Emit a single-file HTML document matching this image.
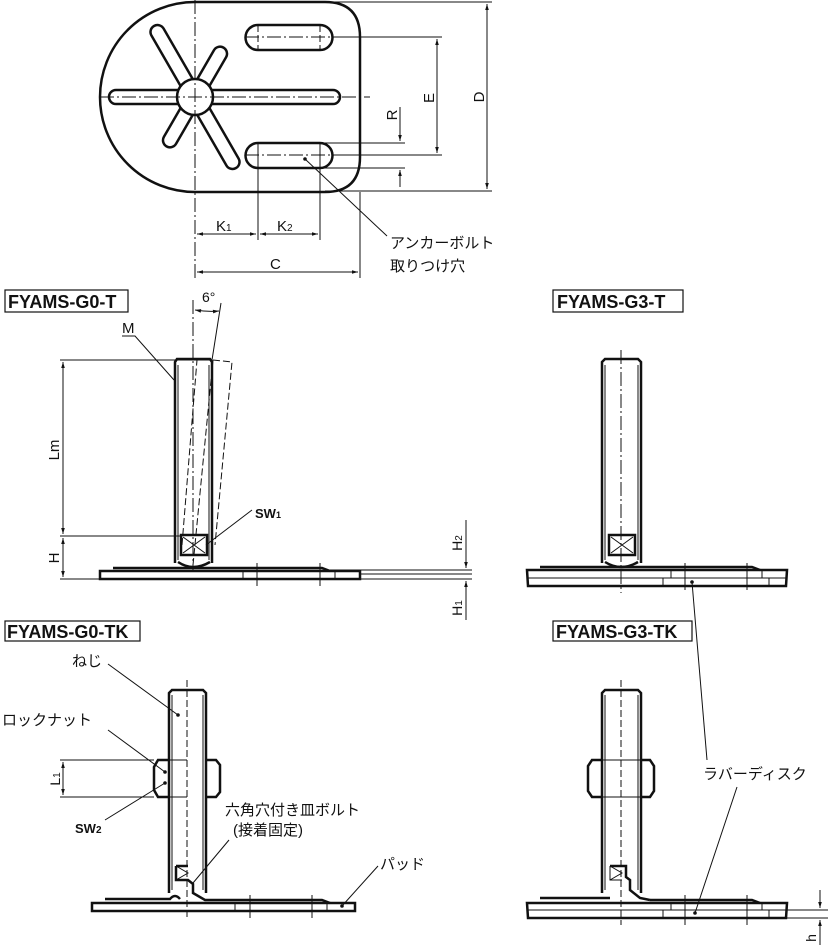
<!DOCTYPE html>
<html><head><meta charset="utf-8"><style>
html,body{margin:0;padding:0;background:#fff}
svg{display:block}
text{font-family:"Liberation Sans","Noto Sans CJK JP",sans-serif;fill:#111}
.o{fill:none;stroke:#111;stroke-width:2.5}
.t{fill:none;stroke:#111;stroke-width:1}
.c{fill:none;stroke:#111;stroke-width:1;stroke-dasharray:14 3 2 3}
.d{fill:none;stroke:#111;stroke-width:1;stroke-dasharray:7 3}
.lab{font-weight:bold;font-size:18px}
.j{font-size:15px}
</style></head><body>
<svg width="828" height="949" viewBox="0 0 828 949" xmlns="http://www.w3.org/2000/svg">
<defs>
<marker id="a" viewBox="0 0 10 10" refX="10" refY="5" markerWidth="8" markerHeight="6" orient="auto-start-reverse"><path d="M0,2 L10,5 L0,8 z" fill="#111"/></marker>
</defs>

<!-- ===== TOP VIEW ===== -->
<path class="o" d="M195,2 L325,2 Q360,2 360,37 L360,157 Q360,192 325,192 L195,192 A95,95 0 0 1 195,2 Z"/>
<line class="c" x1="195" y1="0" x2="195" y2="278"/>
<line class="c" x1="100" y1="97" x2="370" y2="97"/>
<path class="o" d="M178,90 L116,90 A7,7 0 0 0 116,104 L178,104"/>
<path class="o" d="M212,90 L333,90 A7,7 0 0 1 333,104 L212,104"/>
<g transform="rotate(60 195 97)"><path class="o" d="M212,90 L270,90 A7,7 0 0 1 270,104 L212,104"/></g>
<g transform="rotate(-60 195 97)"><path class="o" d="M212,90 L245,90 A7,7 0 0 1 245,104 L212,104"/></g>
<g transform="rotate(120 195 97)"><path class="o" d="M212,90 L245,90 A7,7 0 0 1 245,104 L212,104"/></g>
<g transform="rotate(-120 195 97)"><path class="o" d="M212,90 L270,90 A7,7 0 0 1 270,104 L212,104"/></g>
<circle class="o" cx="195" cy="97" r="18" fill="#fff"/>
<path class="o" d="M258,25 L320,25 A12.5,12.5 0 0 1 320,50 L258,50 A12.5,12.5 0 0 1 258,25 Z"/>
<path class="o" d="M258,143 L320,143 A12.5,12.5 0 0 1 320,168 L258,168 A12.5,12.5 0 0 1 258,143 Z"/>
<line class="c" x1="245" y1="37" x2="345" y2="37"/>
<line class="c" x1="245" y1="155" x2="345" y2="155"/>
<line class="d" x1="258" y1="25" x2="258" y2="50"/><line class="d" x1="320" y1="25" x2="320" y2="50"/>
<line class="t" x1="325" y1="2" x2="492" y2="2"/>
<line class="t" x1="325" y1="191" x2="492" y2="191"/>
<line class="t" x1="340" y1="37" x2="442" y2="37"/>
<line class="t" x1="340" y1="155" x2="442" y2="155"/>
<line class="t" x1="320" y1="143" x2="405" y2="143"/>
<line class="t" x1="320" y1="168" x2="405" y2="168"/>
<line class="t" x1="487" y1="4" x2="487" y2="189" marker-start="url(#a)" marker-end="url(#a)"/>
<line class="t" x1="437" y1="39" x2="437" y2="153" marker-start="url(#a)" marker-end="url(#a)"/>
<line class="t" x1="400" y1="107" x2="400" y2="141" marker-end="url(#a)"/>
<line class="t" x1="400" y1="187" x2="400" y2="170" marker-end="url(#a)"/>
<text font-size="15" transform="translate(484,97) rotate(-90)" text-anchor="middle">D</text>
<text font-size="15" transform="translate(434,98) rotate(-90)" text-anchor="middle">E</text>
<text font-size="15" transform="translate(397,115) rotate(-90)" text-anchor="middle">R</text>
<line class="t" x1="258" y1="143" x2="258" y2="240"/>
<line class="t" x1="320" y1="143" x2="320" y2="240"/>
<line class="t" x1="360" y1="192" x2="360" y2="278"/>
<line class="t" x1="197" y1="234" x2="256" y2="234" marker-start="url(#a)" marker-end="url(#a)"/>
<line class="t" x1="260" y1="234" x2="318" y2="234" marker-start="url(#a)" marker-end="url(#a)"/>
<line class="t" x1="197" y1="272" x2="358" y2="272" marker-start="url(#a)" marker-end="url(#a)"/>
<text x="216" y="231" font-size="15">K<tspan font-size="10">1</tspan></text>
<text x="277" y="231" font-size="15">K<tspan font-size="10">2</tspan></text>
<text x="270" y="269" font-size="15">C</text>
<circle cx="305" cy="159" r="1.8" fill="#111"/>
<line class="t" x1="305" y1="159" x2="387" y2="236"/>
<text x="390" y="248" class="j">アンカーボルト</text>
<text x="390" y="271" class="j">取りつけ穴</text>

<!-- ===== G0-T ===== -->
<rect x="5" y="290" width="123" height="22" fill="none" stroke="#111" stroke-width="1.2"/>
<text x="8" y="308" class="lab">FYAMS-G0-T</text>
<line class="c" x1="193" y1="300" x2="193" y2="572"/>
<line class="t" x1="221" y1="303" x2="212" y2="360"/>
<path class="t" d="M195,310 Q208,312 219,311" marker-start="url(#a)" marker-end="url(#a)"/>
<text x="202" y="302" font-size="14">6°</text>
<path class="o" d="M175,563 L175,362 L177,359 L210,359 L212,362 L212,563"/>
<line class="t" x1="178" y1="365" x2="178" y2="560"/><line class="t" x1="209" y1="365" x2="209" y2="560"/>
<path class="d" d="M213,360 L232,362 L215,545"/>
<path class="d" d="M193,565 L213,360"/>
<path class="d" d="M182,545 L197,360"/>
<rect class="o" x="181" y="535" width="26" height="20"/>
<path class="t" d="M183,537 L205,553 M205,537 L183,553"/>
<path class="o" d="M178,562 Q193,572 210,562"/>
<text x="122" y="333" font-size="15">M</text>
<path class="t" d="M122,336 L135,336 L174,380"/>
<line class="t" x1="60" y1="360" x2="212" y2="360"/>
<line class="t" x1="60" y1="536" x2="182" y2="536"/>
<line class="t" x1="60" y1="579" x2="100" y2="579"/>
<line class="t" x1="63" y1="362" x2="63" y2="534" marker-start="url(#a)" marker-end="url(#a)"/>
<line class="t" x1="63" y1="538" x2="63" y2="577" marker-start="url(#a)" marker-end="url(#a)"/>
<text font-size="15" transform="translate(59,450) rotate(-90)" text-anchor="middle">Lm</text>
<text font-size="15" transform="translate(59,558) rotate(-90)" text-anchor="middle">H</text>
<text x="255" y="518" font-size="13" font-weight="bold">SW<tspan font-size="9">1</tspan></text>
<line class="t" x1="252" y1="510" x2="206" y2="545"/>
<path class="o" d="M113,568 L322,568 L330,571"/>
<rect class="o" x="100" y="571" width="260" height="8"/>
<line class="t" x1="243" y1="571" x2="243" y2="579"/><line class="t" x1="335" y1="571" x2="335" y2="579"/>
<line class="t" x1="257" y1="563" x2="257" y2="586"/><line class="t" x1="320" y1="563" x2="320" y2="586"/>
<line class="t" x1="330" y1="570" x2="472" y2="570"/>
<line class="t" x1="360" y1="574" x2="472" y2="574"/>
<line class="t" x1="360" y1="579" x2="472" y2="579"/>
<line class="t" x1="466" y1="520" x2="466" y2="568" marker-end="url(#a)"/>
<line class="t" x1="466" y1="620" x2="466" y2="581" marker-end="url(#a)"/>
<text font-size="14" transform="translate(462,543) rotate(-90)" text-anchor="middle">H<tspan font-size="10">2</tspan></text>
<text font-size="14" transform="translate(462,608) rotate(-90)" text-anchor="middle">H<tspan font-size="10">1</tspan></text>

<!-- ===== G3-T ===== -->
<rect x="553" y="290" width="130" height="22" fill="none" stroke="#111" stroke-width="1.2"/>
<text x="557" y="308" class="lab">FYAMS-G3-T</text>
<line class="c" x1="621" y1="350" x2="621" y2="593"/>
<path class="o" d="M602,563 L602,362 L605,359 L638,359 L641,362 L641,563"/>
<line class="t" x1="605" y1="365" x2="605" y2="560"/><line class="t" x1="638" y1="365" x2="638" y2="560"/>
<rect class="o" x="609" y="535" width="26" height="20"/>
<path class="t" d="M611,537 L633,553 M633,537 L611,553"/>
<path class="o" d="M605,562 Q621,572 638,562"/>
<path class="o" d="M540,567 L752,567 L760,570"/>
<path class="o" d="M527,570 L787,570 L786,586 L528,586 Z"/>
<line class="t" x1="527" y1="578" x2="787" y2="578"/>
<line class="t" x1="671" y1="570" x2="671" y2="578"/><line class="t" x1="663" y1="578" x2="663" y2="586"/>
<line class="t" x1="762" y1="570" x2="762" y2="578"/><line class="t" x1="769" y1="578" x2="769" y2="586"/>
<line class="t" x1="685" y1="563" x2="685" y2="590"/><line class="t" x1="747" y1="563" x2="747" y2="590"/>
<circle cx="692" cy="582" r="1.8" fill="#111"/>
<line class="t" x1="692" y1="582" x2="707" y2="760"/>

<!-- ===== G0-TK ===== -->
<rect x="5" y="621" width="135" height="20" fill="none" stroke="#111" stroke-width="1.2"/>
<text x="7" y="638" class="lab">FYAMS-G0-TK</text>
<line class="d" x1="187" y1="680" x2="187" y2="918"/>
<path class="o" d="M169,893 L169,693 L172,690 L203,690 L206,693 L206,893"/>
<line class="t" x1="172" y1="695" x2="172" y2="890"/><line class="t" x1="203" y1="695" x2="203" y2="890"/>
<path class="o" d="M169,760 L158,760 L154,767 L154,790 L158,797 L169,797"/>
<line class="t" x1="169" y1="760" x2="187" y2="760"/><line class="t" x1="169" y1="797" x2="187" y2="797"/>
<path class="o" d="M206,760 L216,760 L220,765 L220,792 L216,797 L206,797"/>
<path class="o" d="M176,866 L188,866 M176,866 L176,880 L188,880 L193,884 L193,893 L205,900 L240,900"/>
<path class="t" d="M176,866 L188,873 L176,880"/>
<path class="o" d="M105,899 L170,899 Q175,893 180,899 M240,900 L322,900 L330,903"/>
<rect class="o" x="92" y="903" width="263" height="8"/>
<line class="t" x1="235" y1="903" x2="235" y2="911"/><line class="t" x1="327" y1="903" x2="327" y2="911"/>
<line class="t" x1="250" y1="895" x2="250" y2="918"/><line class="t" x1="312" y1="895" x2="312" y2="918"/>
<circle cx="178" cy="715" r="1.8" fill="#111"/>
<circle cx="165" cy="772" r="1.8" fill="#111"/>
<circle cx="165" cy="783" r="1.8" fill="#111"/>
<circle cx="342" cy="906" r="1.8" fill="#111"/>
<text x="72" y="666" class="j">ねじ</text>
<line class="t" x1="108" y1="664" x2="178" y2="715"/>
<text x="2" y="725" class="j">ロックナット</text>
<line class="t" x1="108" y1="730" x2="165" y2="772"/>
<text x="75" y="833" font-size="13" font-weight="bold">SW<tspan font-size="10">2</tspan></text>
<line class="t" x1="105" y1="820" x2="165" y2="783"/>
<line class="t" x1="60" y1="760" x2="154" y2="760"/>
<line class="t" x1="60" y1="797" x2="154" y2="797"/>
<line class="t" x1="63" y1="762" x2="63" y2="795" marker-start="url(#a)" marker-end="url(#a)"/>
<text font-size="14" transform="translate(60,779) rotate(-90)" text-anchor="middle">L<tspan font-size="10">1</tspan></text>
<text x="225" y="815" class="j">六角穴付き皿ボルト</text>
<text x="233" y="835" class="j">(接着固定)</text>
<line class="t" x1="229" y1="840" x2="193" y2="883"/>
<text x="380" y="869" class="j">パッド</text>
<line class="t" x1="378" y1="866" x2="342" y2="906"/>

<!-- ===== G3-TK ===== -->
<rect x="553" y="621" width="139" height="20" fill="none" stroke="#111" stroke-width="1.2"/>
<text x="556" y="638" class="lab">FYAMS-G3-TK</text>
<line class="d" x1="621" y1="680" x2="621" y2="925"/>
<path class="o" d="M602,893 L602,693 L605,690 L638,690 L641,693 L641,893"/>
<line class="t" x1="605" y1="695" x2="605" y2="890"/><line class="t" x1="638" y1="695" x2="638" y2="890"/>
<path class="o" d="M602,760 L592,760 L588,766 L588,791 L592,797 L602,797"/>
<path class="o" d="M641,760 L650,760 L654,766 L654,791 L650,797 L641,797"/>
<line class="t" x1="602" y1="760" x2="641" y2="760"/><line class="t" x1="602" y1="797" x2="641" y2="797"/>
<path class="o" d="M610,866 L626,866 L626,877 L630,880 L630,890 L640,898 L650,900"/>
<path class="t" d="M610,866 L610,880 L622,880 M610,866 L622,873 L610,880"/>
<path class="o" d="M540,898 L610,898 M650,900 L752,900 L760,903"/>
<path class="o" d="M527,903 L787,903 L786,918 L528,918 Z"/>
<line class="t" x1="527" y1="910" x2="787" y2="910"/>
<line class="t" x1="671" y1="903" x2="671" y2="910"/><line class="t" x1="663" y1="910" x2="663" y2="918"/>
<line class="t" x1="762" y1="903" x2="762" y2="910"/><line class="t" x1="769" y1="910" x2="769" y2="918"/>
<line class="t" x1="685" y1="895" x2="685" y2="925"/><line class="t" x1="747" y1="895" x2="747" y2="925"/>
<circle cx="695" cy="913" r="1.8" fill="#111"/>
<line class="t" x1="695" y1="913" x2="737" y2="787"/>
<text x="703" y="779" class="j">ラバーディスク</text>
<line class="t" x1="787" y1="910" x2="828" y2="910"/>
<line class="t" x1="787" y1="918" x2="828" y2="918"/>
<line class="t" x1="820" y1="890" x2="820" y2="908" marker-end="url(#a)"/>
<line class="t" x1="820" y1="945" x2="820" y2="920" marker-end="url(#a)"/>
<text font-size="14" transform="translate(816,938) rotate(-90)" text-anchor="middle">h</text>
</svg>
</body></html>
